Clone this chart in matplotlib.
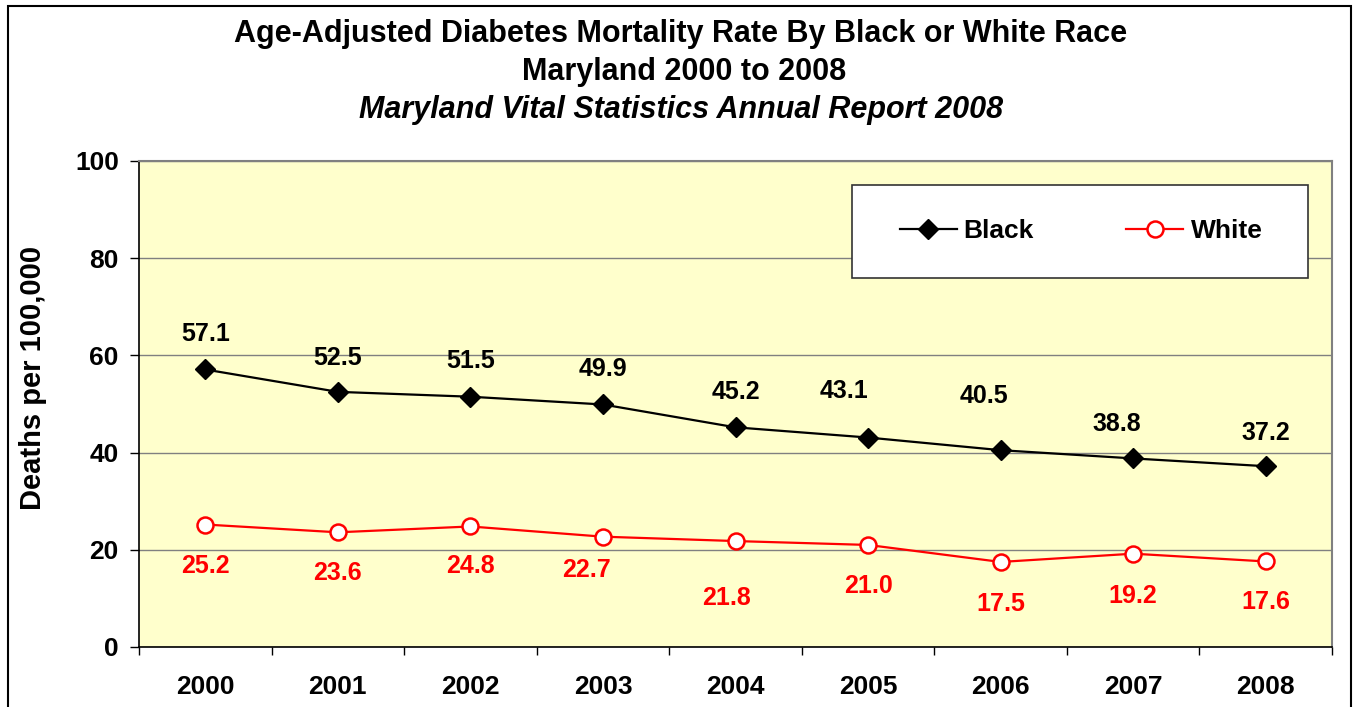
import matplotlib
matplotlib.use('Agg')
import matplotlib.pyplot as plt
from matplotlib.patches import Rectangle
from matplotlib.ticker import FixedLocator, NullFormatter

years = ['2000', '2001', '2002', '2003', '2004', '2005', '2006', '2007', '2008']
black = [57.1, 52.5, 51.5, 49.9, 45.2, 43.1, 40.5, 38.8, 37.2]
white = [25.2, 23.6, 24.8, 22.7, 21.8, 21.0, 17.5, 19.2, 17.6]

# label offsets in pixels (hand placed in the original)
black_dx = [0, 0, 0, 0, 0, -24, -17, -16, 0]
black_dy = [38, 37, 39, 38, 38, 50, 57, 37, 36]
white_dx = [0, 0, 0, -16, -9, 0, 0, 0, 0]
white_dy = [-38, -38, -37, -30, -54, -38, -39, -39, -38]

plt.rcParams['font.family'] = ['Liberation Sans', 'DejaVu Sans']
plt.rcParams['font.weight'] = 'bold'

W, H = 1360, 707
fig = plt.figure(figsize=(13.6, 7.07), dpi=100)
ax = fig.add_axes([139 / W, 1 - 647 / H, (1332 - 139) / W, (647 - 161) / H])
ax.set_facecolor('#FFFFCC')

x = list(range(len(years)))
ax.plot(x, black, color='black', lw=1.6, marker='D', ms=10, mfc='black', mec='black',
        label='Black', zorder=3)
ax.plot(x, white, color='#FF0000', lw=1.6, marker='o', ms=11.5, mfc='white', mec='#FF0000',
        mew=1.8, label='White', zorder=3)

for i, v in enumerate(black):
    ax.annotate(f'{v:.1f}', (i, v), xytext=(black_dx[i], black_dy[i] - 3), textcoords='offset pixels',
                ha='center', va='center', fontsize=18, fontweight='bold', color='black')
for i, v in enumerate(white):
    ax.annotate(f'{v:.1f}', (i, v), xytext=(white_dx[i], white_dy[i] - 3), textcoords='offset pixels',
                ha='center', va='center', fontsize=18, fontweight='bold', color='#FF0000')

ax.set_xlim(-0.5, len(years) - 0.5)
ax.set_ylim(0, 100)
ax.set_yticks([0, 20, 40, 60, 80, 100])
ax.yaxis.grid(True, color='#808080', lw=1)
ax.set_axisbelow(True)
ax.tick_params(axis='y', direction='out', length=6.5, width=1, pad=8, labelsize=19)

ax.xaxis.set_major_locator(FixedLocator([i - 0.5 for i in range(len(years) + 1)]))
ax.xaxis.set_major_formatter(NullFormatter())
ax.xaxis.set_minor_locator(FixedLocator(x))
ax.set_xticklabels(years, minor=True)
ax.tick_params(axis='x', which='major', direction='out', length=6, width=1)
ax.tick_params(axis='x', which='minor', length=0, pad=20.5, labelsize=19)

for s in ['top', 'right']:
    ax.spines[s].set_color('#808080')
    ax.spines[s].set_linewidth(1.5)
for s in ['left', 'bottom']:
    ax.spines[s].set_color('black')
    ax.spines[s].set_linewidth(1.2)

fig.text(33 / W, 1 - 378 / H, 'Deaths per 100,000', rotation=90, ha='center', va='center',
         fontsize=21, fontweight='bold')

fig.text(681 / W, 1 - 34 / H, 'Age-Adjusted Diabetes Mortality Rate By Black or White Race',
         ha='center', va='center', fontsize=22, fontweight='bold')
fig.text(684 / W, 1 - 72 / H, 'Maryland 2000 to 2008',
         ha='center', va='center', fontsize=22, fontweight='bold')
fig.text(681 / W, 1 - 110 / H, 'Maryland Vital Statistics Annual Report 2008',
         ha='center', va='center', fontsize=22, fontweight='bold', style='italic')

# legend box
box = Rectangle((852 / W, 1 - 278 / H), 456 / W, 93 / H, transform=fig.transFigure,
                facecolor='white', edgecolor='#333333', lw=1.2, zorder=4)
ax.add_artist(box)
box.set_clip_on(False)
leg = ax.legend(loc='center', bbox_to_anchor=(1081 / W, 1 - 231.5 / H), bbox_transform=fig.transFigure,
                ncol=2, frameon=False, handlelength=2.16, handletextpad=0.27,
                columnspacing=3.5, prop={'weight': 'bold', 'size': 19})
leg.set_zorder(5)

# outer chart border
fig.patches.append(Rectangle((8 / W, -0.02), (1351 - 8) / W, 1.02 - 6 / H, transform=fig.transFigure,
                             fill=False, edgecolor='black', lw=1.5))

fig.savefig('out.png', dpi=100)
